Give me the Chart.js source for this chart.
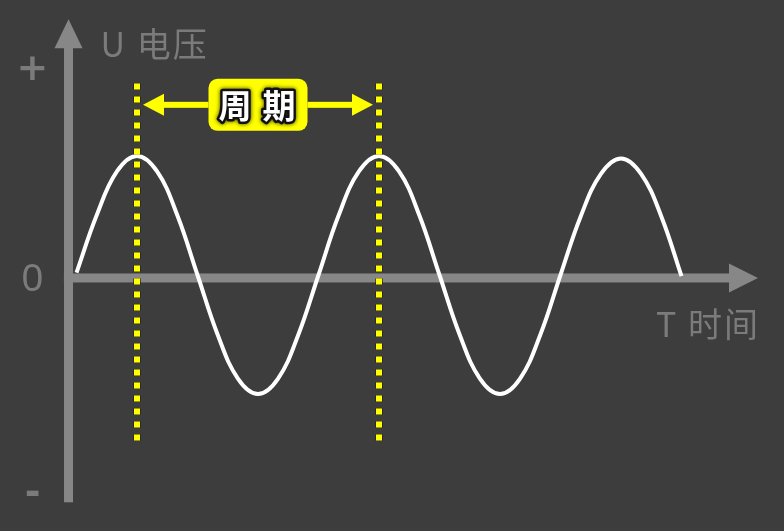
<!DOCTYPE html>
<html>
<head>
<meta charset="utf-8">
<script src="https://cdn.jsdelivr.net/npm/chart.js@4.4.1/dist/chart.umd.min.js"></script>
<style>
  html, body { margin: 0; padding: 0; background: #3d3d3d; }
  canvas { display: block; }
</style>
</head>
<body>
<canvas id="waveChart" width="784" height="531"></canvas>
<script>
// time in periods, voltage in units of amplitude
const timePoints = [0, 0.083, 0.167, 0.25, 0.333, 0.417, 0.5, 0.583, 0.667, 0.75, 0.833, 0.917,
  1, 1.083, 1.167, 1.25, 1.333, 1.417, 1.5, 1.583, 1.667, 1.75, 1.833, 1.917,
  2, 2.083, 2.167, 2.25, 2.333, 2.417, 2.5];
const voltage = [0.02, 0.5, 0.87, 1, 0.87, 0.5, 0, -0.5, -0.87, -1, -0.87, -0.5,
  0, 0.5, 0.87, 1, 0.87, 0.5, 0, -0.5, -0.87, -1, -0.87, -0.5,
  0, 0.49, 0.85, 0.98, 0.85, 0.49, -0.01];

// period markers and their vertical extent
const periodMarks = [0.25, 1.25];
const markTop = 1.61;
const markBottom = -1.41;
const periodLabel = '周 期';
const labelLevel = 1.43;

// axes (in data units)
const axisZeroV = -0.025;
const axisZeroT = -0.033;
const yAxisEnds = [-1.91, 2.15];
const xAxisEnds = [-0.052, 2.816];

const yAxisTitle = 'U 电压';
const xAxisTitle = 'T 时间';
const yTickLabels = ['+', '0', '-'];
const yTickValues = [1.72, -0.04, -1.84];

const axisColor = '#878787';
const textColor = '#7b7b7b';
const yellow = '#ffff00';

const decorPlugin = {
  id: 'decor',
  beforeDatasetsDraw(chart) {
    const ctx = chart.ctx;
    const xs = chart.scales.x, ys = chart.scales.y;
    const ax = xs.getPixelForValue(axisZeroT);
    const ay = ys.getPixelForValue(axisZeroV);
    ctx.save();
    ctx.fillStyle = axisColor;
    // y axis
    const yTop = ys.getPixelForValue(yAxisEnds[1]);
    const yBot = ys.getPixelForValue(yAxisEnds[0]);
    ctx.fillRect(ax - 4.5, yTop + 28, 9, yBot - yTop - 28);
    ctx.beginPath();
    ctx.moveTo(ax, yTop);
    ctx.lineTo(ax + 14, yTop + 29);
    ctx.lineTo(ax - 14, yTop + 29);
    ctx.closePath();
    ctx.fill();
    // x axis
    const xL = xs.getPixelForValue(xAxisEnds[0]);
    const xR = xs.getPixelForValue(xAxisEnds[1]);
    ctx.fillRect(xL, ay - 4.5, xR - xL - 28, 9);
    ctx.beginPath();
    ctx.moveTo(xR, ay);
    ctx.lineTo(xR - 29, ay - 14.5);
    ctx.lineTo(xR - 29, ay + 14.5);
    ctx.closePath();
    ctx.fill();

    // texts
    ctx.fillStyle = textColor;
    ctx.textBaseline = 'middle';
    ctx.font = '34px "Noto Sans CJK SC", "Noto Sans", sans-serif';
    ctx.textAlign = 'left';
    ctx.letterSpacing = '2px';
    ctx.fillText(yAxisTitle, ax + 32, yTop + 25);
    ctx.fillText(xAxisTitle, xR - 102, ay + 46);
    ctx.letterSpacing = '0px';
    ctx.textAlign = 'center';
    yTickLabels.forEach((t, i) => {
      const py = ys.getPixelForValue(yTickValues[i]);
      if (t === '0') {
        ctx.font = '39px "Noto Sans", sans-serif';
      } else {
        ctx.font = 'bold 38px "DejaVu Sans", sans-serif';
      }
      ctx.fillText(t, ax - 36, py);
    });
    ctx.restore();
  },
  afterDatasetsDraw(chart) {
    const ctx = chart.ctx;
    const xs = chart.scales.x, ys = chart.scales.y;
    const x1 = xs.getPixelForValue(periodMarks[0]) + 6;
    const x2 = xs.getPixelForValue(periodMarks[1]) - 6;
    const y = ys.getPixelForValue(labelLevel);
    const mid = (x1 + x2) / 2;
    const boxW = 99, boxH = 52;
    ctx.save();
    ctx.fillStyle = yellow;
    // arrow shafts
    ctx.fillRect(x1 + 18, y - 3, mid - boxW / 2 - x1 - 18, 6);
    ctx.fillRect(mid + boxW / 2, y - 3, x2 - 18 - mid - boxW / 2, 6);
    // arrow heads
    ctx.beginPath();
    ctx.moveTo(x1, y);
    ctx.lineTo(x1 + 21, y - 11);
    ctx.lineTo(x1 + 21, y + 11);
    ctx.closePath();
    ctx.fill();
    ctx.beginPath();
    ctx.moveTo(x2, y);
    ctx.lineTo(x2 - 21, y - 11);
    ctx.lineTo(x2 - 21, y + 11);
    ctx.closePath();
    ctx.fill();
    // label box
    ctx.beginPath();
    ctx.roundRect(mid - boxW / 2, y - boxH / 2, boxW, boxH, 9);
    ctx.fill();
    ctx.font = 'bold 33px "Noto Sans CJK SC", sans-serif';
    ctx.textAlign = 'center';
    ctx.textBaseline = 'middle';
    ctx.lineJoin = 'round';
    ctx.lineWidth = 5;
    ctx.strokeStyle = '#111';
    ctx.fillStyle = '#ffffff';
    const chars = periodLabel.split(' ');
    const offsets = [-23, 21];
    chars.forEach((c, i) => {
      ctx.shadowColor = 'rgba(0,0,0,0.8)';
      ctx.shadowBlur = 4;
      ctx.strokeText(c, mid + offsets[i], y + 1);
      ctx.shadowBlur = 0;
      ctx.fillText(c, mid + offsets[i], y + 1);
    });
    ctx.restore();
  }
};

const datasets = [{
  data: timePoints.map((t, i) => ({ x: t, y: voltage[i] })),
  borderColor: '#ffffff',
  borderWidth: 4,
  tension: 0.4,
  pointRadius: 0,
  order: 2
}];
periodMarks.forEach(t => {
  datasets.push({
    data: [{ x: t, y: markTop }, { x: t, y: markBottom }],
    borderColor: 'rgba(30,30,0,0.6)',
    borderWidth: 8,
    borderDash: [6, 7],
    borderCapStyle: 'butt',
    pointRadius: 0,
    order: 1
  });
  datasets.push({
    data: [{ x: t, y: markTop }, { x: t, y: markBottom }],
    borderColor: yellow,
    borderWidth: 6,
    borderDash: [6, 7],
    borderCapStyle: 'butt',
    pointRadius: 0,
    order: 0
  });
});

new Chart(document.getElementById('waveChart'), {
  type: 'line',
  data: { datasets: datasets },
  options: {
    responsive: false,
    animation: false,
    layout: { padding: 0 },
    plugins: { legend: { display: false }, tooltip: { enabled: false } },
    scales: {
      x: { type: 'linear', display: false, min: -76.5 / 242, max: (784 - 76.5) / 242 },
      y: { type: 'linear', display: false, min: (275 - 531) / 119, max: 275 / 119 }
    }
  },
  plugins: [decorPlugin]
});
</script>
</body>
</html>
